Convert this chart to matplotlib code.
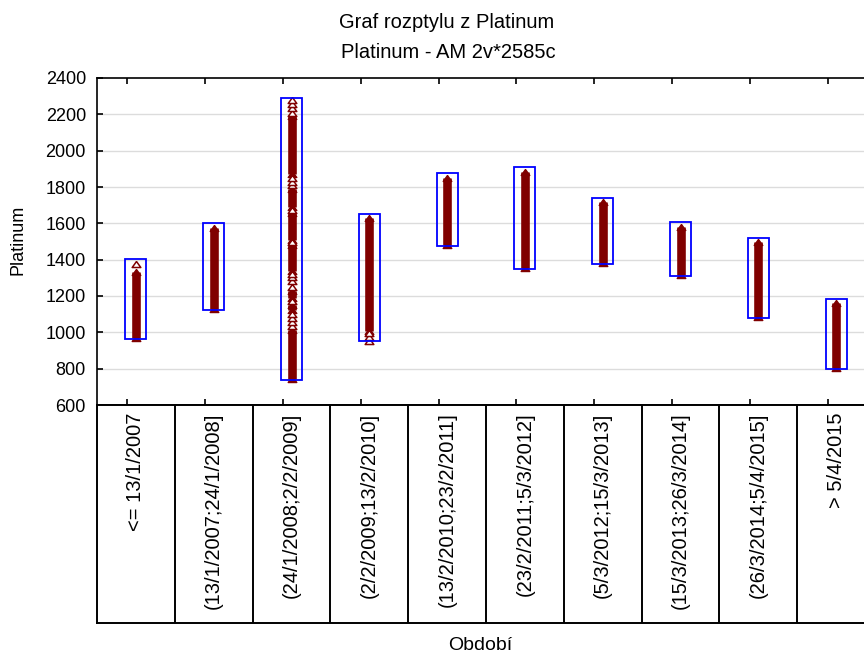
import matplotlib
matplotlib.use("Agg")
import matplotlib.pyplot as plt
from matplotlib.patches import Rectangle
from matplotlib import transforms

plt.rcParams['font.family'] = ['Liberation Sans', 'DejaVu Sans']

categories = ["<= 13/1/2007", "(13/1/2007;24/1/2008]", "(24/1/2008;2/2/2009]",
              "(2/2/2009;13/2/2010]", "(13/2/2010;23/2/2011]", "(23/2/2011;5/3/2012]",
              "(5/3/2012;15/3/2013]", "(15/3/2013;26/3/2014]", "(26/3/2014;5/4/2015]",
              "> 5/4/2015"]

# min / max of each period (blue boxes)
box_low = [963, 1125, 738, 950, 1475, 1350, 1375, 1310, 1080, 800]
box_high = [1404, 1600, 2290, 1652, 1877, 1910, 1740, 1605, 1520, 1185]

# ranges where the triangles are packed solid
dense = [
    [(968, 1330)],
    [(1128, 1575)],
    [(745, 1015), (1125, 1150), (1190, 1225), (1335, 1480), (1510, 1655),
     (1690, 1790), (1870, 2190)],
    [(1010, 1630)],
    [(1480, 1850)],
    [(1356, 1885)],
    [(1382, 1715)],
    [(1313, 1580)],
    [(1084, 1495)],
    [(806, 1160)],
]

# single triangles that stand out
single = [
    [1378],
    [],
    [1035, 1055, 1080, 1100, 1170, 1250, 1280, 1305, 1320, 1495, 1672,
     1810, 1830, 1850, 2210, 2235, 2258, 2278],
    [955, 975, 995],
    [], [], [], [], [], [],
]

red = '#800000'
tri = [(0, 0.7), (-1, -0.7), (1, -0.7), (0, 0.7)]

fig = plt.figure(figsize=(8.64, 6.54), dpi=100)
ax = fig.add_axes([97 / 864, 249 / 654, 778 / 864, 327 / 654])
tab = fig.add_axes([97 / 864, 31 / 654, 778 / 864, 218 / 654])

for i in range(len(categories)):
    for lo, hi in dense[i]:
        ax.vlines(i, lo, hi, color=red, lw=6.2, zorder=3)
        ax.plot([i, i], [lo, hi], ls='none', marker=tri, ms=6.2,
                color=red, mec=red, zorder=3)
    if single[i]:
        ax.plot([i] * len(single[i]), single[i], ls='none', marker=tri, ms=6.2,
                mfc='white', mec=red, mew=1.1, zorder=4)
    ax.add_patch(Rectangle((i - 0.135, box_low[i]), 0.27, box_high[i] - box_low[i],
                           fill=False, ec='#0000ff', lw=1.3, zorder=5))

ax.set_xlim(-0.5, 9.5)
ax.set_ylim(600, 2400)
ax.set_yticks(range(600, 2401, 200))
ax.set_xticks([i - 0.11 for i in range(len(categories))])
ax.tick_params(axis='x', top=True, bottom=True, labelbottom=False,
               direction='in', length=4, width=1.2)
ax.tick_params(axis='y', direction='in', length=4, width=1.2, labelsize=13, pad=8)
for y in range(800, 2400, 200):
    ax.axhline(y, color='#dcdcdc', lw=1, zorder=1)
for s in ax.spines.values():
    s.set_linewidth(1.2)

tab.set_xlim(-0.5, 9.5)
tab.set_ylim(0, 1)
tab.set_xticks([])
tab.set_yticks([])
for s in tab.spines.values():
    s.set_linewidth(1.4)
for k in range(1, len(categories)):
    tab.axvline(k - 0.5, color='black', lw=1.4)
trans = transforms.blended_transform_factory(tab.transData, tab.transAxes)
for i, lab in enumerate(categories):
    tab.text(i, 0.965, lab, rotation=90, ha='center', va='top',
             fontsize=14.5, transform=trans)

fig.text(447 / 864, 1 - 23 / 654, "Graf rozptylu z Platinum", ha='center', va='center', fontsize=14.5)
fig.text(448 / 864, 1 - 53 / 654, "Platinum - AM 2v*2585c", ha='center', va='center', fontsize=14.5)
fig.text(18 / 864, 1 - 240 / 654, "Platinum", rotation=90, ha='center', va='center', fontsize=13)
fig.text(480 / 864, 1 - 645 / 654, "Období", ha='center', va='center', fontsize=14)

fig.savefig("out.png", dpi=100)
